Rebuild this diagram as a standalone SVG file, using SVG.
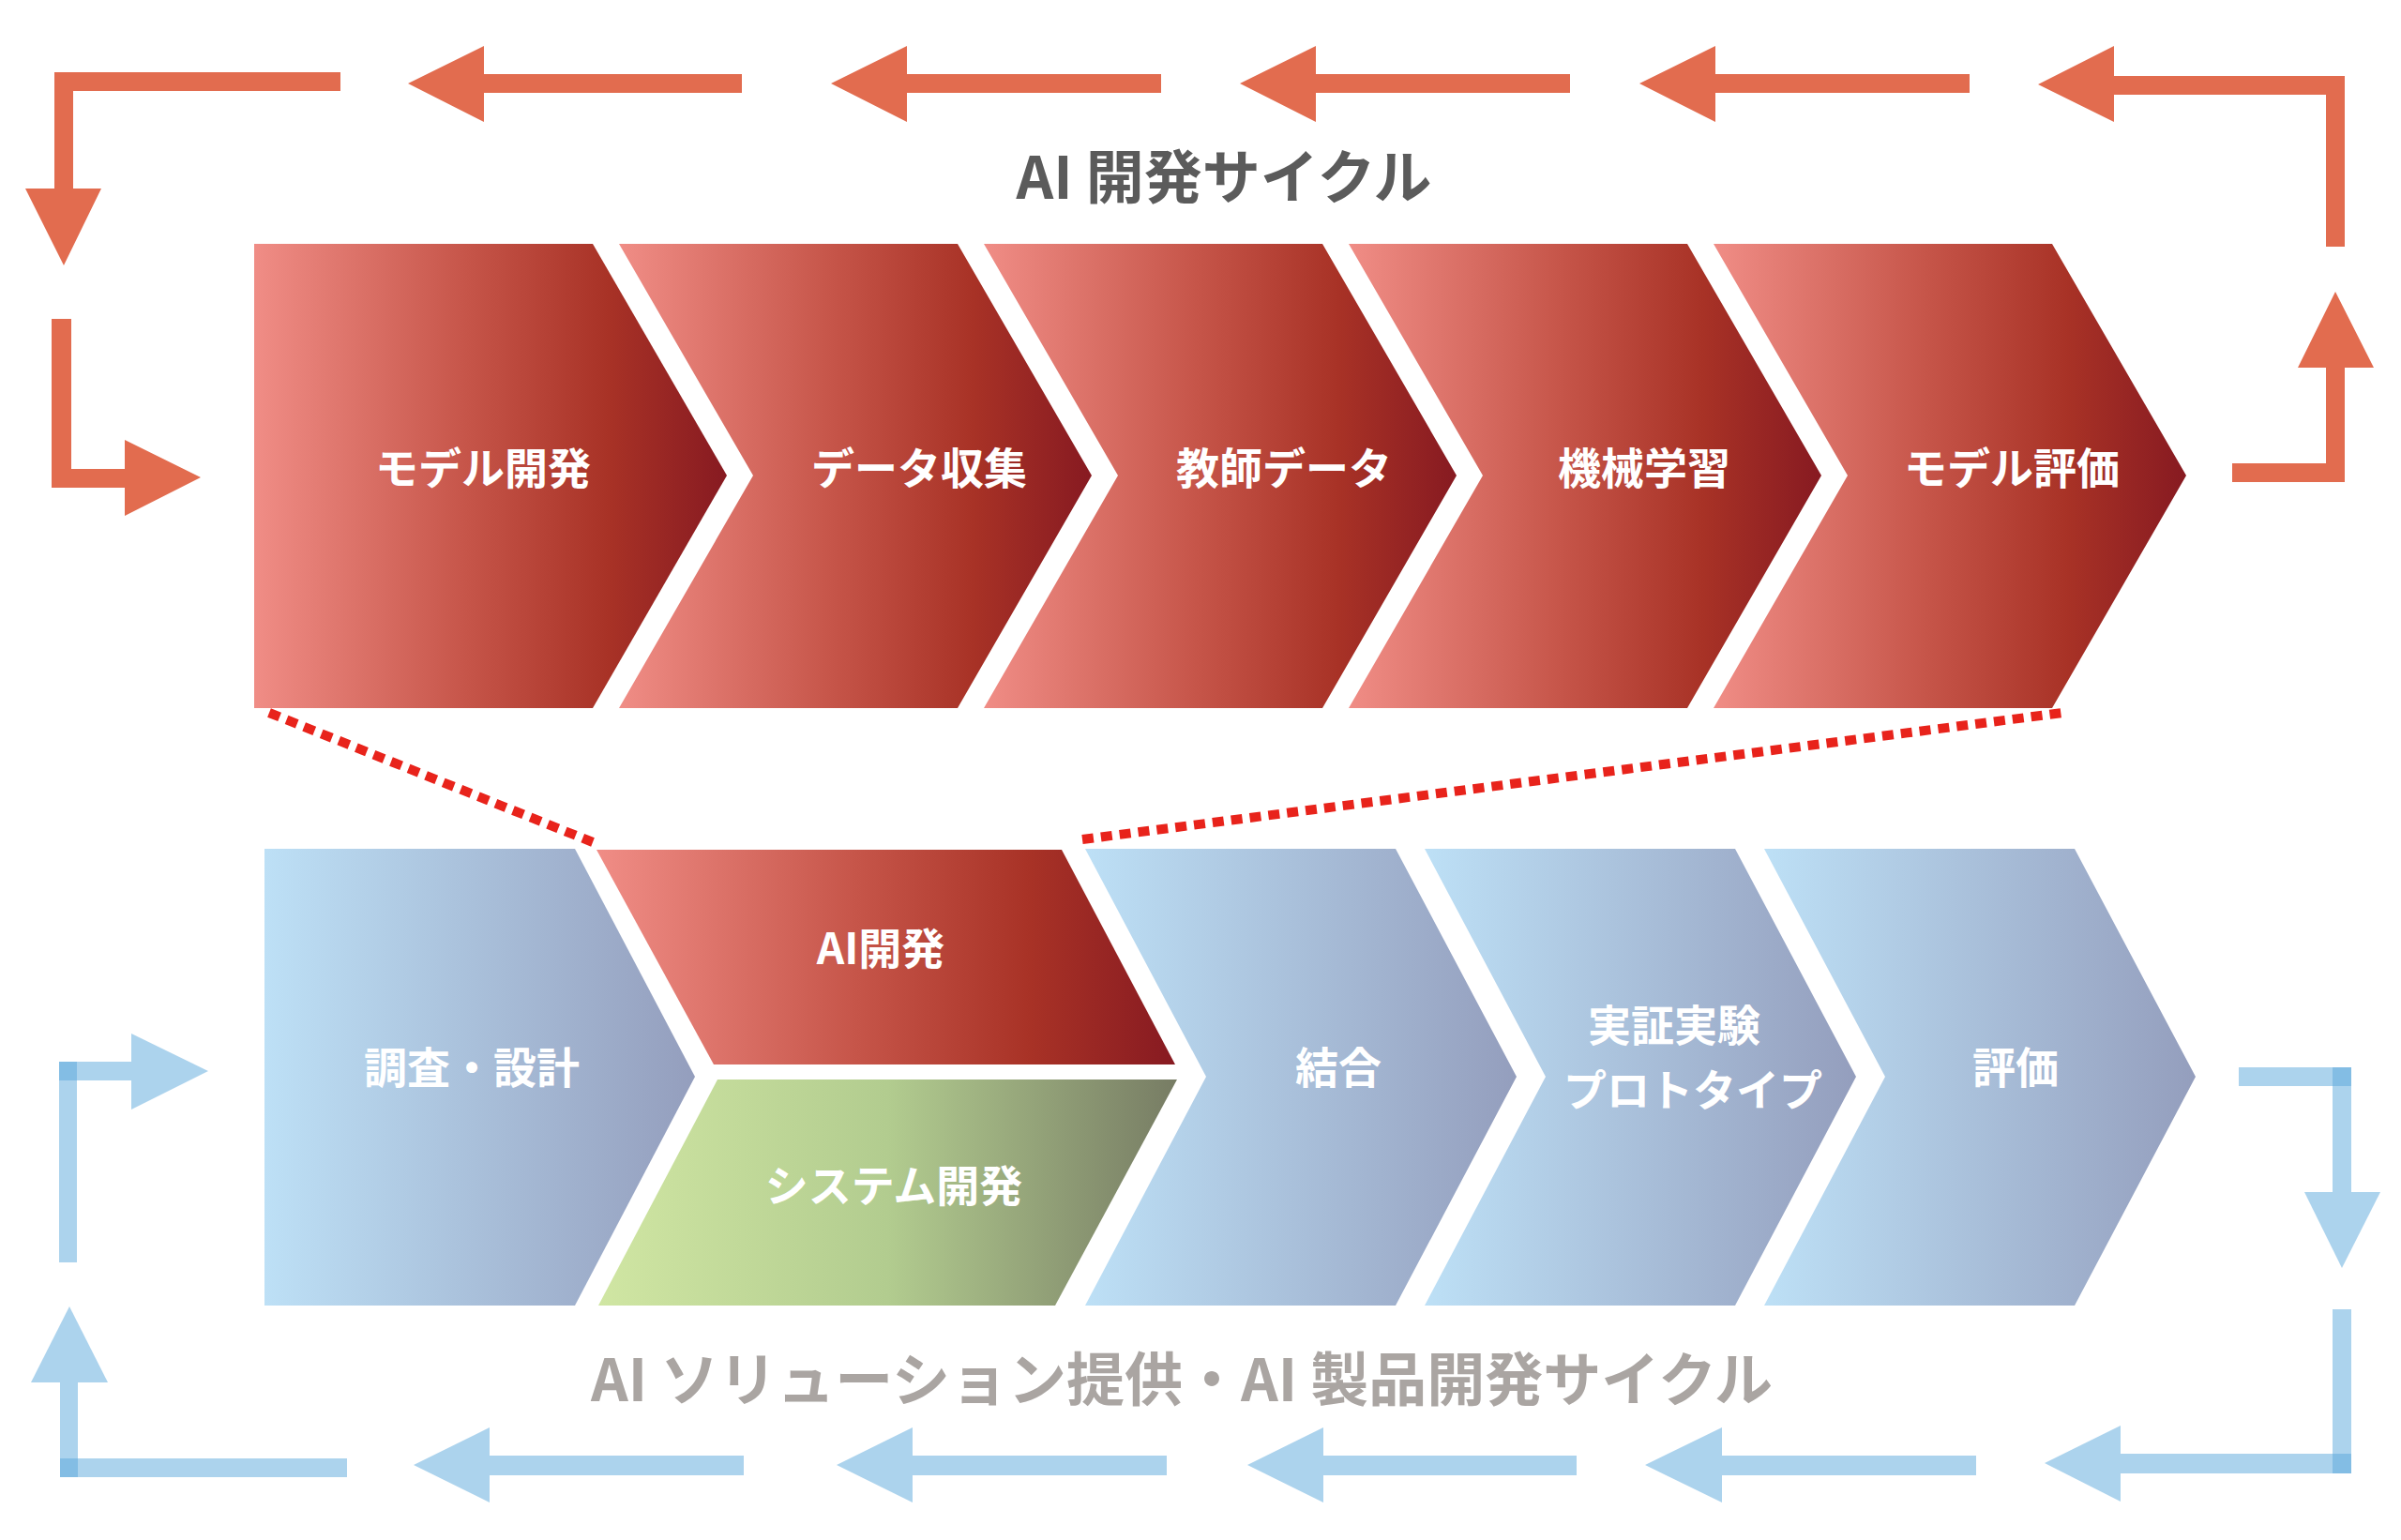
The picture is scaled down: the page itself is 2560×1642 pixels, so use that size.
<svg xmlns="http://www.w3.org/2000/svg" width="2560" height="1642" viewBox="0 0 2560 1642">
<defs>
<linearGradient id="gr" x1="0" y1="0" x2="1" y2="0"><stop offset="0" stop-color="#f08d86"/><stop offset="0.45" stop-color="#c65549"/><stop offset="0.75" stop-color="#a83226"/><stop offset="1" stop-color="#871a21"/></linearGradient>
<linearGradient id="gb" x1="0" y1="0" x2="1" y2="0"><stop offset="0" stop-color="#bde0f6"/><stop offset="1" stop-color="#949ebd"/></linearGradient>
<linearGradient id="gg" x1="0" y1="0" x2="1" y2="0"><stop offset="0" stop-color="#d0e6a3"/><stop offset="0.5" stop-color="#b2cc8f"/><stop offset="1" stop-color="#777c64"/></linearGradient>
</defs>
<style>
.lbl{font-family:"Noto Sans CJK JP","Noto Sans",sans-serif;font-weight:bold;fill:#ffffff;text-anchor:middle;font-size:46px}
.ttl{font-family:"Noto Sans CJK JP","Noto Sans",sans-serif;font-weight:bold;text-anchor:middle;font-size:62px}
.ra{fill:#e26c4f}
.ba{fill:#5aa7dc;fill-opacity:0.5}
.dot{fill:none;stroke:#e8231b;stroke-width:10;stroke-dasharray:12 8}
</style>
<g id="connectors">
<polygon class="ra" points="363,77 58,77 58,201 27,201 68,283 108,201 78,201 78,97 363,97"/>
<polygon class="ra" points="55,340 76,340 76,500 133,500 133,469 214,509 133,550 133,520 55,520"/>
<polygon class="ra" points="435,89 516,49 516,79 791,79 791,99 516,99 516,130"/>
<polygon class="ra" points="886,89 967,49 967,79 1238,79 1238,99 967,99 967,130"/>
<polygon class="ra" points="1322,89 1403,49 1403,79 1674,79 1674,99 1403,99 1403,130"/>
<polygon class="ra" points="1748,89 1829,49 1829,79 2100,79 2100,99 1829,99 1829,130"/>
<polygon class="ra" points="2173,90 2254,49 2254,81 2500,81 2500,263 2480,263 2480,101 2254,101 2254,130"/>
<polygon class="ra" points="2380,494 2480,494 2480,392 2450,392 2490,311 2531,392 2500,392 2500,514 2380,514"/>
<line class="dot" x1="287" y1="760" x2="632" y2="898"/>
<line class="dot" x1="1154" y1="895" x2="2199" y2="760"/>
<rect class="ba" x="63" y="1132" width="19" height="214"/>
<rect class="ba" x="63" y="1132" width="77" height="20"/>
<polygon class="ba" points="140,1102 222,1142 140,1183"/>
<rect class="ba" x="64" y="1474" width="19" height="101"/>
<rect class="ba" x="64" y="1555" width="306" height="20"/>
<polygon class="ba" points="33,1474 74,1393 115,1474"/>
<rect class="ba" x="2387" y="1138" width="120" height="20"/>
<rect class="ba" x="2487" y="1138" width="20" height="133"/>
<polygon class="ba" points="2457,1271 2538,1271 2497,1352"/>
<rect class="ba" x="2487" y="1396" width="20" height="175"/>
<rect class="ba" x="2261" y="1550" width="246" height="21"/>
<polygon class="ba" points="2261,1520 2180,1560 2261,1601"/>
<polygon class="ba" points="441,1562 522,1522 522,1552 793,1552 793,1573 522,1573 522,1602"/>
<polygon class="ba" points="892,1562 973,1522 973,1552 1244,1552 1244,1573 973,1573 973,1602"/>
<polygon class="ba" points="1330,1562 1411,1522 1411,1552 1681,1552 1681,1573 1411,1573 1411,1602"/>
<polygon class="ba" points="1754,1562 1836,1522 1836,1552 2107,1552 2107,1573 1836,1573 1836,1602"/>
</g>
<text class="ttl" x="1305" y="212" fill="#5b5b5b">AI 開発サイクル</text>
<text class="ttl" x="1260" y="1494" fill="#aaa5a2">AI ソリューション提供・AI 製品開発サイクル</text>
<g id="n1"><polygon fill="url(#gr)" points="271,260 632,260 775,507 632,755 271,755"/><text class="lbl" x="515" y="516">モデル開発</text></g>
<g id="n2"><polygon fill="url(#gr)" points="660,260 1021,260 1164,507 1021,755 660,755 803,507"/><text class="lbl" x="980" y="516">データ収集</text></g>
<g id="n3"><polygon fill="url(#gr)" points="1049,260 1410,260 1553,507 1410,755 1049,755 1192,507"/><text class="lbl" x="1369" y="516">教師データ</text></g>
<g id="n4"><polygon fill="url(#gr)" points="1438,260 1799,260 1942,507 1799,755 1438,755 1581,507"/><text class="lbl" x="1753" y="516">機械学習</text></g>
<g id="n5"><polygon fill="url(#gr)" points="1827,260 2188,260 2331,507 2188,755 1827,755 1970,507"/><text class="lbl" x="2145" y="516">モデル評価</text></g>
<g id="b1"><polygon fill="url(#gb)" points="282,905 613,905 741,1148 613,1392 282,1392"/><text class="lbl" x="503" y="1155">調査・設計</text></g>
<g id="b2"><polygon fill="url(#gr)" points="636,906 1132,906 1253,1135 761,1135"/><text class="lbl" x="939" y="1028">AI開発</text></g>
<g id="b3"><polygon fill="url(#gg)" points="765,1151 1255,1151 1125,1392 638,1392"/><text class="lbl" x="953" y="1281">システム開発</text></g>
<g id="b4"><polygon fill="url(#gb)" points="1157,905 1488,905 1617,1148 1488,1392 1157,1392 1286,1148"/><text class="lbl" x="1427" y="1155">結合</text></g>
<g id="b5"><polygon fill="url(#gb)" points="1519,905 1850,905 1979,1148 1850,1392 1519,1392 1648,1148"/><text class="lbl" x="1785" y="1110">実証実験</text><text class="lbl" x="1805" y="1179">プロトタイプ</text></g>
<g id="b6"><polygon fill="url(#gb)" points="1881,905 2212,905 2341,1148 2212,1392 1881,1392 2010,1148"/><text class="lbl" x="2149" y="1155">評価</text></g>
</svg>
